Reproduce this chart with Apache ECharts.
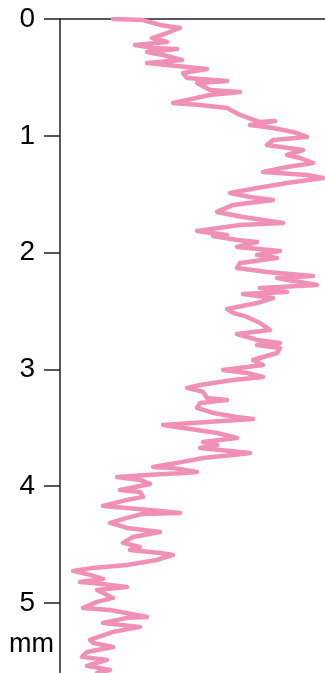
<!DOCTYPE html>
<html>
<head>
<meta charset="utf-8">
<script src="https://cdn.jsdelivr.net/npm/echarts@6/dist/echarts.min.js"></script>
<style>
html,body{margin:0;padding:0;background:#fff;}
#chart{width:325px;height:673px;}
</style>
</head>
<body>
<div id="chart"></div>
<script>
// Depth (mm) of each traced point, top to bottom
var depthMm = [0,0.009,0.051,0.077,0.120,0.163,0.197,0.223,0.248,0.257,0.283,0.308,0.351,0.377,0.394,0.428,0.462,0.505,0.531,0.548,0.608,0.625,0.651,0.719,0.736,0.762,0.822,0.882,0.874,0.908,0.933,0.967,1.010,1.036,1.079,1.122,1.164,1.190,1.233,1.267,1.310,1.336,1.361,1.404,1.447,1.490,1.524,1.550,1.592,1.652,1.695,1.747,1.764,1.815,1.849,1.858,1.892,1.909,1.952,1.986,2.021,2.046,2.089,2.132,2.166,2.200,2.217,2.277,2.303,2.337,2.354,2.389,2.432,2.483,2.517,2.551,2.603,2.663,2.697,2.748,2.774,2.791,2.817,2.860,2.920,2.962,3.005,3.031,3.065,3.091,3.134,3.159,3.193,3.245,3.262,3.288,3.330,3.373,3.408,3.425,3.450,3.476,3.519,3.545,3.587,3.622,3.647,3.673,3.716,3.733,3.759,3.801,3.836,3.844,3.878,3.887,3.904,3.921,3.947,3.981,4.033,4.050,4.092,4.118,4.170,4.187,4.212,4.229,4.238,4.272,4.315,4.358,4.392,4.435,4.486,4.521,4.546,4.572,4.589,4.632,4.675,4.700,4.726,4.760,4.795,4.820,4.829,4.863,4.889,4.957,4.991,5.043,5.060,5.120,5.128,5.171,5.205,5.248,5.317,5.342,5.377,5.420,5.462,5.488,5.539,5.574,5.599];
// Profile value at each depth (arbitrary units)
var profileValue = [53,83,100,120,107,92,107,75,93,117,87,103,122,87,107,147,123,127,167,137,150,180,150,113,140,167,180,200,215,190,213,233,247,213,207,243,227,240,253,227,203,247,263,227,197,170,190,213,173,157,183,223,180,137,167,153,177,197,177,220,197,217,180,177,207,253,217,257,200,227,183,213,197,167,173,187,200,210,177,197,220,197,220,217,193,203,163,187,203,173,140,127,143,147,167,140,137,153,177,193,147,103,137,157,177,143,157,140,190,173,143,117,93,113,137,123,87,57,80,90,60,80,83,67,43,67,100,120,83,67,50,67,100,73,63,80,70,100,113,97,67,33,13,30,43,20,33,67,37,53,37,23,50,87,67,43,80,53,30,33,53,27,22,47,27,50,37];
var depthTicks = [0,1,2,3,4,5];
var unitLabel = 'mm';

var chart = echarts.init(document.getElementById('chart'), null, {renderer:'canvas'});
var pts = depthMm.map(function(d,i){ return [profileValue[i], d]; });
chart.setOption({
  animation:false,
  backgroundColor:'#fff',
  grid:{left:60,right:0,top:19,bottom:0,containLabel:false},
  xAxis:{type:'value',position:'top',min:0,max:265,
    axisLine:{show:true,onZero:false,lineStyle:{color:'#222',width:1.5}},
    axisTick:{show:false},axisLabel:{show:false},splitLine:{show:false}},
  yAxis:{type:'value',inverse:true,min:0,max:5.6,interval:1,
    axisLine:{show:true,onZero:false,lineStyle:{color:'#222',width:1.5}},
    axisTick:{show:true,length:16,lineStyle:{color:'#222',width:1.5}},
    axisLabel:{fontSize:28,color:'#000',margin:25,fontFamily:'Liberation Sans, Arial, sans-serif',
      formatter:function(v){ return depthTicks.indexOf(v)>=0 ? String(v) : ''; },
      showMaxLabel:false},
    splitLine:{show:false}},
  graphic:[
    {type:'text',left:9,top:631,style:{text:unitLabel,fontSize:27,fill:'#000',fontFamily:'Liberation Sans, Arial, sans-serif'}}
  ],
  series:[{type:'line',data:pts,showSymbol:false,smooth:false,
    lineStyle:{color:'#F190B7',width:4.5,join:'round',cap:'round'},z:1}]
});
</script>
</body>
</html>
